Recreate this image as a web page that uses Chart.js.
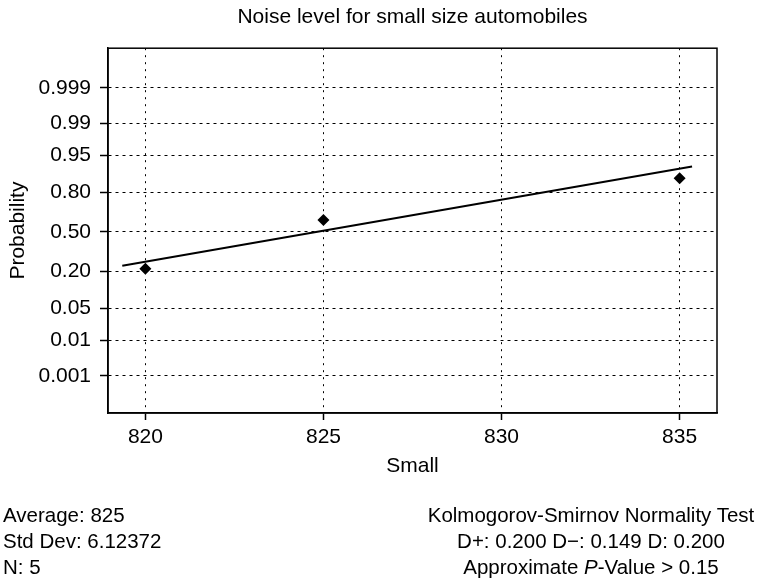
<!DOCTYPE html>
<html>
<head>
<meta charset="utf-8">
<script src="https://cdn.jsdelivr.net/npm/chart.js@4.4.1/dist/chart.umd.min.js"></script>
<style>
  body { margin: 0; background: #fff; }
  #wrap { position: relative; width: 758px; height: 582px; font-family: "Liberation Sans", Arial, sans-serif; color: #000; }
  .stats { position: absolute; top: 502px; font-size: 20.5px; line-height: 26px; white-space: nowrap; }
  #statsLeft { left: 3px; }
  #statsRight { left: 591px; transform: translateX(-50%); text-align: center; }
</style>
</head>
<body>
<div id="wrap">
  <canvas id="probplot"></canvas>
  <div class="stats" id="statsLeft">
    <div>Average: 825</div>
    <div>Std Dev: 6.12372</div>
    <div>N: 5</div>
  </div>
  <div class="stats" id="statsRight">
    <div>Kolmogorov-Smirnov Normality Test</div>
    <div>D+: 0.200 D−: 0.149 D: 0.200</div>
    <div>Approximate <i>P</i>-Value &gt; 0.15</div>
  </div>
</div>
<script>
// sample values and their plotting positions
var sampleValues = [820, 825, 835];
var plotProbs = [0.215, 0.600, 0.875];

// fitted normal line (end points)
var fitX = [819.35, 835.35];
var fitProbs = [0.234, 0.920];

// axis ticks
var xTicks = [820, 825, 830, 835];
var probTicks = [0.001, 0.01, 0.05, 0.20, 0.50, 0.80, 0.95, 0.99, 0.999];
var probLabels = ['0.001', '0.01', '0.05', '0.20', '0.50', '0.80', '0.95', '0.99', '0.999'];

// inverse normal cdf (Acklam), used to put probabilities on a normal scale
function probit(p) {
    var a = [-3.969683028665376e+01, 2.209460984245205e+02, -2.759285104469687e+02, 1.383577518672690e+02, -3.066479806614716e+01, 2.506628277459239e+00];
    var b = [-5.447609879822406e+01, 1.615858368580409e+02, -1.556989798598866e+02, 6.680131188771972e+01, -1.328068155288572e+01];
    var c = [-7.784894002430293e-03, -3.223964580411365e-01, -2.400758277161838e+00, -2.549732539343734e+00, 4.374664141464968e+00, 2.938163982698783e+00];
    var d = [7.784695709041462e-03, 3.224671290700398e-01, 2.445134137142996e+00, 3.754408661907416e+00];
    var plow = 0.02425, q, r;
    if (p < plow) {
        q = Math.sqrt(-2 * Math.log(p));
        return (((((c[0]*q+c[1])*q+c[2])*q+c[3])*q+c[4])*q+c[5]) / ((((d[0]*q+d[1])*q+d[2])*q+d[3])*q+1);
    }
    if (p > 1 - plow) {
        q = Math.sqrt(-2 * Math.log(1 - p));
        return -(((((c[0]*q+c[1])*q+c[2])*q+c[3])*q+c[4])*q+c[5]) / ((((d[0]*q+d[1])*q+d[2])*q+d[3])*q+1);
    }
    q = p - 0.5;
    r = q * q;
    return (((((a[0]*r+a[1])*r+a[2])*r+a[3])*r+a[4])*r+a[5])*q / (((((b[0]*r+b[1])*r+b[2])*r+b[3])*r+b[4])*r+1);
}

var points = sampleValues.map(function (v, i) { return {x: v, y: probit(plotProbs[i])}; });
var fitLine = fitX.map(function (v, i) { return {x: v, y: probit(fitProbs[i])}; });

var font = {family: '"Liberation Sans", Arial, sans-serif', size: 21, weight: 'normal'};

// closes the box round the plot area
var frame = {
    id: 'frame',
    afterDraw: function (chart) {
        var a = chart.chartArea, ctx = chart.ctx;
        ctx.save();
        ctx.strokeStyle = '#000';
        ctx.lineWidth = 1.5;
        ctx.strokeRect(a.left, a.top, a.right - a.left, a.bottom - a.top);
        ctx.restore();
    }
};

Chart.defaults.color = '#000';

new Chart(document.getElementById('probplot'), {
    type: 'scatter',
    data: {
        datasets: [{
            data: points,
            pointStyle: 'rectRot',
            pointRadius: 6,
            backgroundColor: '#000',
            borderColor: '#000',
            borderWidth: 0
        }, {
            data: fitLine,
            showLine: true,
            pointRadius: 0,
            borderColor: '#000',
            borderWidth: 2
        }]
    },
    options: {
        responsive: true,
        maintainAspectRatio: false,
        animation: false,
        layout: {padding: {left: 0, right: 41, top: 0, bottom: 99}},
        plugins: {
            legend: {display: false},
            tooltip: {enabled: false},
            title: {
                display: true,
                text: 'Noise level for small size automobiles',
                fullSize: false,
                font: font,
                padding: {top: 5, bottom: 18}
            }
        },
        scales: {
            x: {
                type: 'linear',
                min: 818.95,
                max: 836.05,
                afterFit: function (scale) { scale.height = 70; },
                afterBuildTicks: function (scale) {
                    scale.ticks = xTicks.map(function (v) { return {value: v}; });
                },
                ticks: {padding: 5, maxRotation: 0, font: font},
                grid: {color: '#000', lineWidth: 1, tickLength: 7, tickWidth: 1.5, tickBorderDash: []},
                border: {color: '#000', width: 1.5, dash: [2, 5]},
                title: {display: true, text: 'Small', font: font, padding: {top: 0, bottom: 4}}
            },
            y: {
                type: 'linear',
                min: -3.89,
                max: 3.945,
                afterFit: function (scale) { scale.width = 108; },
                afterBuildTicks: function (scale) {
                    scale.ticks = probTicks.map(function (p) { return {value: probit(p)}; });
                },
                ticks: {
                    padding: 9,
                    font: font,
                    callback: function (value, index) { return probLabels[index]; }
                },
                grid: {color: '#000', lineWidth: 1, tickLength: 8, tickWidth: 1.5, tickBorderDash: []},
                border: {color: '#000', width: 1.5, dash: [3, 4]},
                title: {display: true, text: 'Probability', font: font, padding: {top: 6, bottom: 0}}
            }
        }
    },
    plugins: [frame]
});
</script>
</body>
</html>
